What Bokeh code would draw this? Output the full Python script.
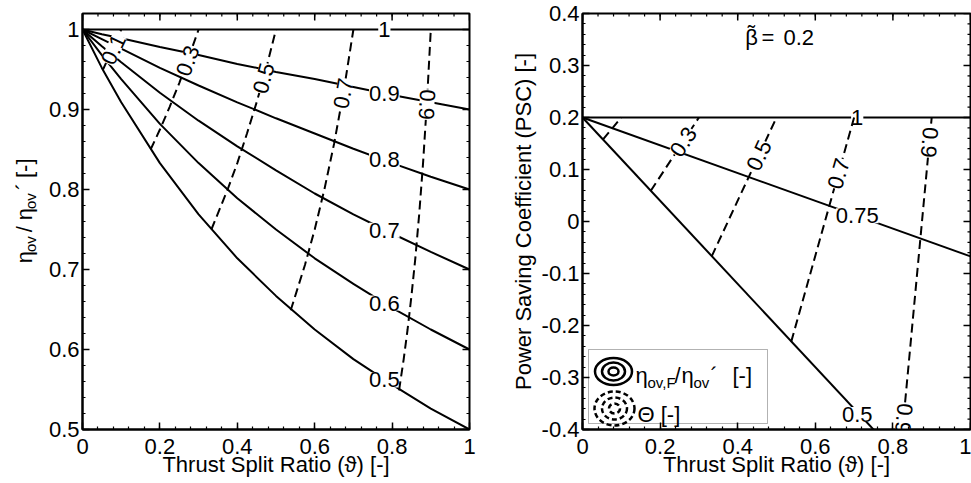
import numpy as np
from bokeh.plotting import figure
from bokeh.models import Label, Range1d, FixedTicker, BoxAnnotation
from bokeh.layouts import row
from bokeh.core.properties import value
from bokeh.embed import file_html
from bokeh.resources import INLINE

FONT = "Liberation Sans"
FS = "22px"
SUB = "15px"

# ---------------- data: left panel (eta_ov / eta_ov') ----------------
split_ratio = [0.0, 0.05, 0.1, 0.2, 0.3, 0.4, 0.5, 0.6, 0.7, 0.8, 0.9, 1.0]
eta_ratio_F100 = [1.0, 1.0, 1.0, 1.0, 1.0, 1.0, 1.0, 1.0, 1.0, 1.0, 1.0, 1.0]
eta_ratio_F090 = [1.0, 0.994, 0.989, 0.978, 0.968, 0.957, 0.947, 0.938, 0.928, 0.918, 0.909, 0.900]
eta_ratio_F080 = [1.0, 0.988, 0.976, 0.952, 0.930, 0.909, 0.889, 0.870, 0.851, 0.833, 0.816, 0.800]
eta_ratio_F070 = [1.0, 0.979, 0.959, 0.921, 0.886, 0.854, 0.824, 0.795, 0.769, 0.745, 0.722, 0.700]
eta_ratio_F060 = [1.0, 0.968, 0.938, 0.882, 0.833, 0.789, 0.750, 0.714, 0.682, 0.652, 0.625, 0.600]
eta_ratio_F050 = [1.0, 0.952, 0.909, 0.833, 0.769, 0.714, 0.667, 0.625, 0.588, 0.556, 0.526, 0.500]

theta01_split = [0.053, 0.075, 0.100]
theta01_ratio = [0.950, 0.973, 1.000]
theta03_split = [0.176, 0.200, 0.225, 0.250, 0.275, 0.300]
theta03_ratio = [0.850, 0.875, 0.903, 0.933, 0.966, 1.000]
theta05_split = [0.333, 0.375, 0.400, 0.425, 0.450, 0.475, 0.500]
theta05_ratio = [0.750, 0.800, 0.833, 0.870, 0.909, 0.952, 1.000]
theta07_split = [0.538, 0.575, 0.600, 0.625, 0.650, 0.675, 0.700]
theta07_ratio = [0.649, 0.706, 0.750, 0.800, 0.857, 0.923, 1.000]
theta09_split = [0.818, 0.830, 0.840, 0.850, 0.860, 0.870, 0.880, 0.890, 0.900]
theta09_ratio = [0.549, 0.588, 0.625, 0.667, 0.714, 0.769, 0.833, 0.909, 1.000]

left_solid_text = ["1", "0.9", "0.8", "0.7", "0.6", "0.5"]
left_solid_x = [0.78, 0.78, 0.78, 0.78, 0.78, 0.78]
left_solid_y = [1.000, 0.920, 0.837, 0.749, 0.658, 0.562]
left_dash_text = ["0.1", "0.3", "0.5", "0.7", "0.9"]
left_dash_x = [0.080, 0.272, 0.468, 0.674, 0.890]
left_dash_y = [0.975, 0.961, 0.939, 0.920, 0.906]
left_dash_angle = [65, 70, 75, 80, -93]

# ---------------- data: right panel (PSC, beta~ = 0.2) ----------------
psc_split = [0.0, 1.0]
psc_F100 = [0.2, 0.2]
psc_F075 = [0.2, -0.067]
psc_F050 = [0.2, -0.6]

psc_theta01_split = [0.053, 0.100]
psc_theta01 = [0.158, 0.200]
psc_theta03_split = [0.176, 0.300]
psc_theta03 = [0.059, 0.200]
psc_theta05_split = [0.333, 0.500]
psc_theta05 = [-0.067, 0.200]
psc_theta07_split = [0.538, 0.700]
psc_theta07 = [-0.231, 0.200]
psc_theta09_split = [0.818, 0.900]
psc_theta09 = [-0.455, 0.200]

right_solid_text = ["1", "0.75", "0.5"]
right_solid_x = [0.708, 0.708, 0.708]
right_solid_y = [0.200, 0.011, -0.371]
right_dash_text = ["0.3", "0.5", "0.7", "0.9", "0.9"]
right_dash_x = [0.260, 0.455, 0.660, 0.894, 0.828]
right_dash_y = [0.153, 0.127, 0.092, 0.152, -0.379]
right_dash_angle = [57, 65, 74, -95, -95]

x_ticks = [0.0, 0.2, 0.4, 0.6, 0.8, 1.0]
x_tick_labels = ["0", "0.2", "0.4", "0.6", "0.8", "1"]
left_y_ticks = [0.5, 0.6, 0.7, 0.8, 0.9, 1.0]
left_y_tick_labels = ["0.5", "0.6", "0.7", "0.8", "0.9", "1"]
right_y_ticks = [-0.4, -0.3, -0.2, -0.1, 0.0, 0.1, 0.2, 0.3, 0.4]
right_y_tick_labels = ["-0.4", "-0.3", "-0.2", "-0.1", "0", "0.1", "0.2", "0.3", "0.4"]

H = 483
BOTTOM = 429


def make_fig(width, left, right, top, y0, y1):
    p = figure(width=width, height=H, x_range=Range1d(0, 1), y_range=Range1d(y0, y1),
               output_backend="svg", toolbar_location=None,
               min_border_left=left, min_border_right=right,
               min_border_top=top, min_border_bottom=H - BOTTOM)
    p.grid.visible = False
    p.outline_line_color = "black"
    p.outline_line_width = 2
    p.background_fill_color = "white"
    p.border_fill_color = "white"
    return p


def style_axis(ax, ticks, labels, minor, standoff):
    ax.ticker = FixedTicker(ticks=ticks, minor_ticks=list(minor))
    ax.major_label_overrides = dict(zip(ticks, labels))
    ax.axis_line_color = "black"
    ax.axis_line_width = 2
    ax.major_tick_in = 7
    ax.major_tick_out = 0
    ax.major_tick_line_width = 1.5
    ax.minor_tick_in = 3
    ax.minor_tick_out = 0
    ax.minor_tick_line_width = 1.2
    ax.major_label_text_font = FONT
    ax.major_label_text_color = "black"
    ax.major_label_text_font_size = FS
    ax.major_label_standoff = standoff
    ax.axis_label_text_font = FONT
    ax.axis_label_text_font_size = FS
    ax.axis_label_text_font_style = "normal"
    ax.axis_label_text_color = "black"


def edge_ticks(p, xmajor, xminor, ymajor, yminor, ytop, xright):
    # inward tick marks on the top and right edges (half of each dash is clipped by the frame)
    p.scatter(x=xmajor, y=[ytop] * len(xmajor), marker="dash", angle=90, angle_units="deg",
              size=14, line_color="black", line_width=1.5)
    p.scatter(x=xminor, y=[ytop] * len(xminor), marker="dash", angle=90, angle_units="deg",
              size=6, line_color="black", line_width=1.2)
    p.scatter(x=[xright] * len(ymajor), y=ymajor, marker="dash",
              size=14, line_color="black", line_width=1.5)
    p.scatter(x=[xright] * len(yminor), y=yminor, marker="dash",
              size=6, line_color="black", line_width=1.2)


def contour_labels(p, xs, ys, texts, angles):
    p.text(x=xs, y=ys, text=texts, angle=angles, angle_units="deg",
           text_font=value(FONT), text_font_size=FS, text_align="center",
           text_baseline="middle", text_color="black",
           background_fill_color="white")


def run(p, text, x, y, size, angle=0, align="left"):
    p.add_layout(Label(x=x, y=y, text=text, angle=angle, angle_units="deg",
                       text_font=FONT, text_font_size=size, text_align=align,
                       text_baseline="alphabetic", text_color="black"))


SOLID = dict(line_color="black", line_width=2)
DASH = dict(line_color="black", line_width=2, line_dash="9 5")

x_minor = [round(v, 3) for v in np.arange(0, 1.0001, 0.04)]

# ---------------- y-label strip for the left panel (pixel-like coordinates) ----------------
pz = figure(width=45, height=H, x_range=Range1d(0, 45), y_range=Range1d(H, 0),
            output_backend="svg", toolbar_location=None, min_border=0,
            x_axis_location=None, y_axis_location=None)
pz.grid.visible = False
pz.outline_line_color = None
pz.background_fill_color = "white"
pz.border_fill_color = "white"
run(pz, "\u03b7", 24, 290, FS, 90)
run(pz, "ov", 30, 277, SUB, 90)
run(pz, "/", 24, 254, FS, 90)
run(pz, "\u03b7", 24, 240, FS, 90)
run(pz, "ov", 30, 227, SUB, 90)
run(pz, "\u00b4", 24, 205, FS, 90)
run(pz, "[-]", 24, 191, FS, 90)

# ---------------- left panel ----------------
pl = make_fig(445, 34, 21, 12, 0.5, 1.02)
lx_axis = pl.xaxis[0]
ly_axis = pl.yaxis[0]
left_y_minor = [round(v, 3) for v in np.arange(0.5, 1.0201, 0.02)]
style_axis(lx_axis, x_ticks, x_tick_labels, x_minor, 9)
style_axis(ly_axis, left_y_ticks, left_y_tick_labels, left_y_minor, 3)
lx_axis.axis_label = "Thrust Split Ratio (\u03d1) [-]"
lx_axis.axis_label_standoff = -5
edge_ticks(pl, x_ticks, x_minor, left_y_ticks, left_y_minor, 1.02, 1.0)

for ys in [eta_ratio_F100, eta_ratio_F090, eta_ratio_F080, eta_ratio_F070,
           eta_ratio_F060, eta_ratio_F050]:
    pl.line(split_ratio, ys, **SOLID)
contour_labels(pl, left_solid_x, left_solid_y, left_solid_text, [0] * len(left_solid_text))
for xs, ys in [(theta01_split, theta01_ratio), (theta03_split, theta03_ratio),
               (theta05_split, theta05_ratio), (theta07_split, theta07_ratio),
               (theta09_split, theta09_ratio)]:
    pl.line(xs, ys, **DASH)
contour_labels(pl, left_dash_x, left_dash_y, left_dash_text, left_dash_angle)

# ---------------- right panel ----------------
pr = make_fig(481, 92, 1, 13, -0.4, 0.4)
rx_axis = pr.xaxis[0]
ry_axis = pr.yaxis[0]
right_y_minor = [round(v, 3) for v in np.arange(-0.4, 0.4001, 0.02)]
style_axis(rx_axis, x_ticks, x_tick_labels, x_minor, 9)
style_axis(ry_axis, right_y_ticks, right_y_tick_labels, right_y_minor, 3)
rx_axis.axis_label = "Thrust Split Ratio (\u03d1) [-]"
rx_axis.axis_label_standoff = -5
ry_axis.axis_label = "Power Saving Coefficient (PSC) [-]"
ry_axis.axis_label_standoff = 3
edge_ticks(pr, x_ticks, x_minor, right_y_ticks, right_y_minor, 0.4, 1.0)


def rx(px):
    return (px - 582) / 388.0


def ry(py):
    return 0.4 - (py - 13) / 520.0


# legend box (drawn under the glyphs)
pr.add_layout(BoxAnnotation(left=rx(588), right=rx(767), top=ry(349), bottom=ry(423),
                            fill_color="white", fill_alpha=1, line_color="black",
                            line_width=1, level="underlay"))

for ys in [psc_F100, psc_F075, psc_F050]:
    pr.line(psc_split, ys, **SOLID)
contour_labels(pr, right_solid_x, right_solid_y, right_solid_text, [0] * len(right_solid_text))
for xs, ys in [(psc_theta01_split, psc_theta01), (psc_theta03_split, psc_theta03),
               (psc_theta05_split, psc_theta05), (psc_theta07_split, psc_theta07),
               (psc_theta09_split, psc_theta09)]:
    pr.line(xs, ys, **DASH)
contour_labels(pr, right_dash_x, right_dash_y, right_dash_text, right_dash_angle)

# legend icons (concentric contour rings)
pr.ellipse(x=[rx(613)] * 3, y=[ry(371)] * 3, width=[37, 23, 10], height=[27, 18, 8],
           width_units="screen", height_units="screen", fill_color=None,
           line_color="black", line_width=2.5)
pr.ellipse(x=[rx(614)] * 3, y=[ry(408)] * 3, width=[40, 25, 11], height=[34, 22, 10],
           width_units="screen", height_units="screen", fill_color=None,
           line_color="black", line_width=2.5, line_dash="5 3")

run(pr, "\u03b7", rx(635), ry(375), FS)
run(pr, "ov,F", rx(647), ry(382), SUB)
run(pr, "/", rx(674), ry(375), FS)
run(pr, "\u03b7", rx(681), ry(375), FS)
run(pr, "ov", rx(693), ry(382), SUB)
run(pr, "\u00b4", rx(710), ry(375), FS)
run(pr, "[-]", rx(732), ry(375), FS)
run(pr, "\u0398 [-]", rx(637), ry(414), FS)

# beta-tilde annotation
run(pr, "\u03b2", rx(751), ry(37), FS, 0, "center")
run(pr, "\u02dc", rx(751), ry(33), FS, 0, "center")
run(pr, "=", rx(761), ry(37), FS)
run(pr, "0.2", rx(783), ry(37), FS)

layout = row(pz, pl, pr)
open("out.html", "w").write(file_html(layout, INLINE))
